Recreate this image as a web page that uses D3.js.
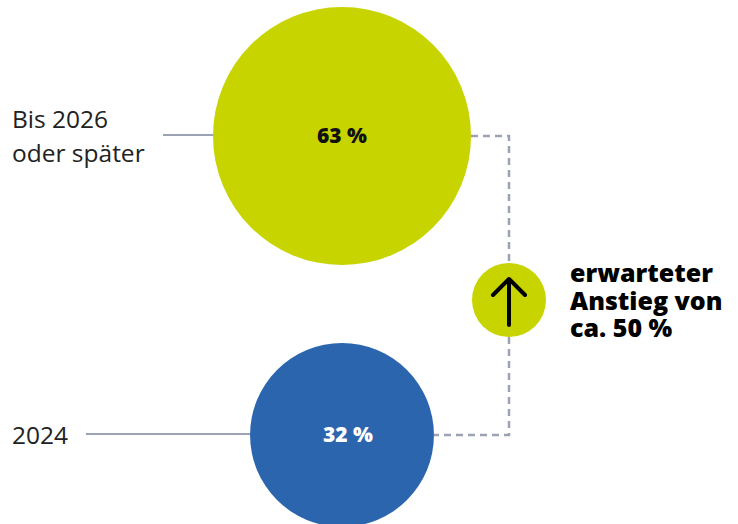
<!DOCTYPE html>
<html>
<head>
<meta charset="utf-8">
<script src="https://cdn.jsdelivr.net/npm/d3@7"></script>
<style>
  body { margin: 0; background: #fff; }
  svg { display: block; font-family: "Open Sans", sans-serif; }
</style>
</head>
<body>
<svg id="chart" width="738" height="524"></svg>
<script>
// data
const categories = ["Bis 2026|oder später", "2024"];
const values = [63, 32];
const valueLabels = ["63 %", "32 %"];
const noteLines = ["erwarteter", "Anstieg von", "ca. 50 %"];

const colors = ["#c8d400", "#2b65ae"];
const labelColors = ["#111", "#fff"];
const lineColor = "#9aa2b4";

const svg = d3.select("#chart");
const cx = 342;

// scales
const r = d3.scaleSqrt().domain([0, 63]).range([0, 129]);
const y = d3.scalePoint().domain(categories).range([136, 435]);

// label connector lines
const leftEnds = [163, 86];
svg.selectAll(".conn")
    .data(categories)
    .enter().append("line")
    .attr("class", "conn")
    .attr("x1", (d, i) => leftEnds[i])
    .attr("x2", cx)
    .attr("y1", d => y(d) - 1)
    .attr("y2", d => y(d) - 1)
    .attr("stroke", lineColor)
    .attr("stroke-width", 2);

// dashed link between circles
const arrowX = 509, arrowY = 300, arrowR = 37;
const topC = categories[0], botC = categories[1];
svg.append("path")
    .attr("d", `M${cx + r(values[0])},${y(topC)} H${arrowX} V${arrowY - arrowR}`)
    .attr("fill", "none")
    .attr("stroke", lineColor)
    .attr("stroke-width", 2.5)
    .attr("stroke-dasharray", "7,5");
svg.append("path")
    .attr("d", `M${arrowX},${arrowY + arrowR} V${y(botC)} H${cx + r(values[1])}`)
    .attr("fill", "none")
    .attr("stroke", lineColor)
    .attr("stroke-width", 2.5)
    .attr("stroke-dasharray", "7,5");

// bubbles
svg.selectAll(".bubble")
    .data(categories)
    .enter().append("circle")
    .attr("class", "bubble")
    .attr("cx", cx)
    .attr("cy", d => y(d))
    .attr("r", (d, i) => r(values[i]))
    .attr("fill", (d, i) => colors[i]);

svg.selectAll(".val")
    .data(categories)
    .enter().append("text")
    .attr("class", "val")
    .attr("x", (d, i) => cx + (i === 1 ? 6 : 0))
    .attr("y", d => y(d) + 7)
    .attr("text-anchor", "middle")
    .attr("font-size", 21)
    .attr("font-weight", 800)
    .attr("fill", (d, i) => labelColors[i])
    .text((d, i) => valueLabels[i]);

// category labels
svg.selectAll(".cat")
    .data(categories)
    .enter().append("text")
    .attr("class", "cat")
    .attr("x", 12)
    .attr("y", (d, i) => i === 0 ? y(d) - 8 : y(d) + 9)
    .attr("font-size", 24.5)
    .attr("fill", "#222")
    .selectAll("tspan")
    .data(d => d.split("|"))
    .enter().append("tspan")
    .attr("x", 12)
    .attr("dy", (d, i) => i === 0 ? 0 : 34)
    .text(d => d);

// arrow circle
svg.append("circle")
    .attr("cx", arrowX)
    .attr("cy", arrowY)
    .attr("r", arrowR)
    .attr("fill", colors[0]);
svg.append("path")
    .attr("d", `M${arrowX},${arrowY + 25} V${arrowY - 21} M${arrowX - 16},${arrowY - 5} L${arrowX},${arrowY - 21} L${arrowX + 16},${arrowY - 5}`)
    .attr("fill", "none")
    .attr("stroke", "#000")
    .attr("stroke-width", 4)
    .attr("stroke-linecap", "round")
    .attr("stroke-linejoin", "round");

// note text
svg.append("text")
    .attr("x", 570)
    .attr("y", 282)
    .attr("font-size", 25)
    .attr("font-weight", 800)
    .attr("fill", "#000")
    .selectAll("tspan")
    .data(noteLines)
    .enter().append("tspan")
    .attr("x", 570)
    .attr("dy", (d, i) => i === 0 ? 0 : 27.5)
    .text(d => d);
</script>
</body>
</html>
